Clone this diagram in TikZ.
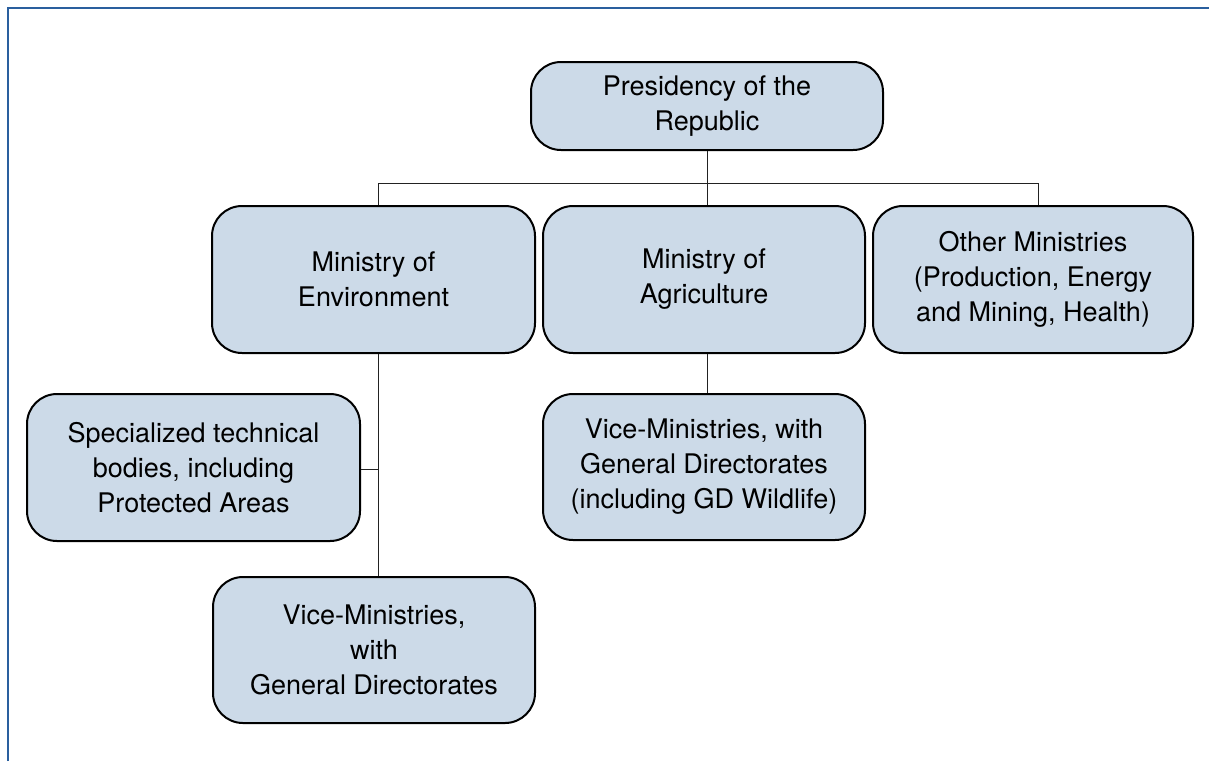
\documentclass[tikz,border=0pt]{standalone}
\usepackage{fontspec}
\setmainfont{TeX Gyre Heros}
\definecolor{boxfill}{HTML}{CCDAE8}
\definecolor{framecol}{HTML}{2A5F9E}
\definecolor{linecol}{HTML}{222222}
\begin{document}
\begin{tikzpicture}[x=1pt,y=-1pt,
  orgbox/.style={draw=black, line width=2pt, fill=boxfill, rounded corners=30pt,
    align=center, inner sep=0pt, font=\fontsize{27}{35}\selectfont},
  conn/.style={draw=linecol, line width=1pt}]
\useasboundingbox (0,0) rectangle (1209,761);
\draw[framecol, line width=2.4pt] (8,761) -- (8,8) -- (1209,8);

\node[orgbox, minimum width=352pt, minimum height=88pt] (pres) at (707,106) {Presidency of the\\Republic};
\node[orgbox, minimum width=323pt, minimum height=147pt] (env) at (373.5,279.5) {Ministry of\\Environment};
\node[orgbox, minimum width=322pt, minimum height=147pt] (agr) at (704,279.5) {Ministry of\\Agriculture};
\node[orgbox, minimum width=320pt, minimum height=147pt] (oth) at (1033,279.5) {Other Ministries\\(Production, Energy\\and Mining, Health)};
\node[orgbox, minimum width=333pt, minimum height=147pt] (spec) at (193.5,467.5) {Specialized technical\\bodies, including\\Protected Areas};
\node[orgbox, minimum width=322pt, minimum height=146pt] (vga) at (704,467) {Vice-Ministries, with\\General Directorates\\(including GD Wildlife)};
\node[orgbox, minimum width=322pt, minimum height=146pt] (vge) at (374,650) {Vice-Ministries,\\with\\General Directorates};

\coordinate (busL) at (378,183);
\coordinate (busM) at (707,183);
\coordinate (busR) at (1038,183);
\coordinate (envX) at (378,469);

\draw[conn] (pres.south -| busM) -- (busM);
\draw[conn] (busL) -- (busR);
\draw[conn] (busL) -- (busL |- env.north);
\draw[conn] (busM) -- (busM |- agr.north);
\draw[conn] (busR) -- (busR |- oth.north);
\draw[conn] (busL |- env.south) -- (busL |- vge.north);
\draw[conn] (spec.east |- envX) -- (envX);
\draw[conn] (busM |- agr.south) -- (busM |- vga.north);
\end{tikzpicture}
\end{document}
